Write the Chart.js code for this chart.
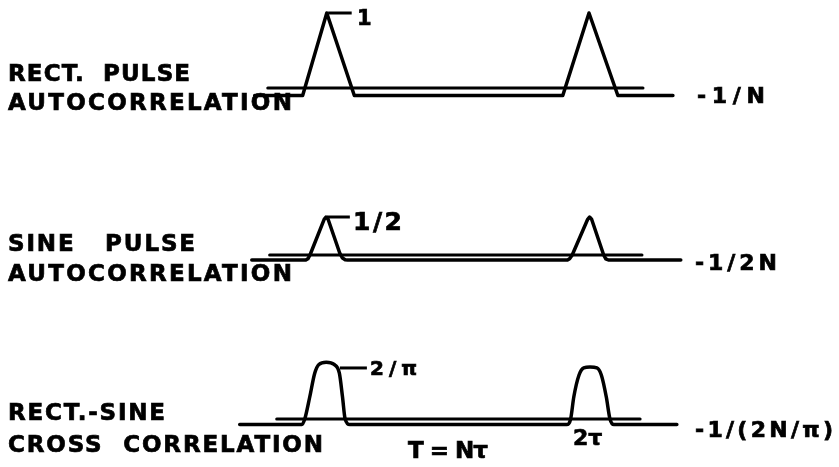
<!DOCTYPE html>
<html>
<head>
<meta charset="utf-8">
<script src="https://cdn.jsdelivr.net/npm/chart.js@4.4.1/dist/chart.umd.min.js"></script>
<style>
  html, body { margin: 0; padding: 0; background: #fff; }
  #stage { position: relative; width: 839px; height: 467px; overflow: hidden; background: #fff; }
  #stage canvas { position: absolute; left: 0; }
  .lbl {
    position: absolute; white-space: pre; color: #000; line-height: 1;
    font-family: "DejaVu Sans", "Liberation Sans", sans-serif; font-weight: bold;
    -webkit-text-stroke: 0.7px #000;
  }
</style>
</head>
<body>
<div id="stage"></div>
<script>
// x is in units of the chip width tau; first peak at 0, second at T = N*tau
// y is correlation value (each trace keeps its own vertical scale)

// --- rect. pulse autocorrelation ---
const rectX = [-2.75, -0.92, 0, 1.05, 9.0, 10.0, 11.1, 13.2];
const rectY = [-0.1, -0.1, 1.0, -0.1, -0.1, 1.0, -0.1, -0.1];
const rectZeroX = [-2.25, 12.06];
const rectLeadX = [0.05, 0.95];
const rectLeadY = 1.0;

// --- sine pulse autocorrelation ---
const sineX = [-2.86, -0.8, -0.72, -0.64, -0.1, -0.03, 0.05, 0.5, 0.6, 0.7, 0.8,
               9.18, 9.26, 9.36, 9.95, 10.02, 10.1, 10.56, 10.64, 10.74, 13.5];
const sineY = [-0.066, -0.066, -0.05, 0.0, 0.47, 0.5, 0.47, 0.02, -0.04, -0.062, -0.066,
               -0.066, -0.05, 0.0, 0.47, 0.5, 0.47, 0.0, -0.05, -0.066, -0.066];
const sineZeroX = [-2.18, 12.02];
const sineLeadX = [0.0, 0.88];
const sineLeadY = 0.5;

// --- rect.-sine cross correlation ---
const crossX = [-3.32, -0.95, -0.84, -0.65, -0.46, -0.3, -0.02, 0.28, 0.48, 0.6, 0.7, 0.88,
                9.15, 9.3, 9.42, 9.62, 9.8, 10.04, 10.3, 10.47, 10.66, 10.8, 10.95, 13.35];
const crossY = [-0.063, -0.063, 0.0, 0.25, 0.52, 0.62, 0.645, 0.62, 0.52, 0.25, 0.0, -0.063,
                -0.063, 0.0, 0.25, 0.5, 0.58, 0.59, 0.58, 0.5, 0.25, 0.0, -0.063, -0.063];
const crossZeroX = [-1.91, 11.95];
const crossLeadX = [0.5, 1.53];
const crossLeadY = 0.58;

// text: [string, left px, cap-centre px, font px, fitted width px (0 = natural)]
const labels = [
  ['RECT.  PULSE',        8,  73, 23, 182],
  ['AUTOCORRELATION',     8, 102, 23, 284],
  ['SINE   PULSE',        8, 243, 23, 187],
  ['AUTOCORRELATION',     8, 273, 23, 284],
  ['RECT.-SINE',          8, 412, 23, 157],
  ['CROSS  CORRELATION',  8, 444, 23, 315],
  ['1',                 357,  18, 21, 0],
  ['1/2',               353, 221, 25, 49],
  ['2/\u03c0',          370, 368, 20, 47],
  ['-1/N',              697,  96, 22, 68],
  ['-1/2N',             695, 263, 22, 82],
  ['-1/(2N/\u03c0)',    695, 430, 22, 138],
  ['T = N\u03c4',       408, 450, 23, 80],
  ['2\u03c4',           573, 438, 22, 0]
];

const X_MIN = -3.5, X_MAX = 14.5;
const PAD_L = 235, PAD_R = 132;   // puts x = 0 at ~327px, 26.2px per tau

const pts = (xs, ys) => xs.map((x, i) => ({ x, y: Array.isArray(ys) ? ys[i] : ys }));

function addTrace(cfg) {
  const { top, height, zeroPx, pxPerUnit, sigX, sigY, zeroX, leadX, leadY, smooth } = cfg;
  const yMax = (zeroPx - top) / pxPerUnit;
  const yMin = yMax - height / pxPerUnit;

  const cv = document.createElement('canvas');
  cv.width = 839; cv.height = height;
  cv.style.top = top + 'px';
  document.getElementById('stage').appendChild(cv);

  new Chart(cv.getContext('2d'), {
    type: 'scatter',
    data: {
      datasets: [
        { // zero reference
          data: pts(zeroX, 0), showLine: true, borderColor: '#000', borderWidth: 3,
          pointRadius: 0, clip: false, borderCapStyle: 'round'
        },
        { // correlation
          data: pts(sigX, sigY), showLine: true, borderColor: '#000', borderWidth: 3.5,
          pointRadius: 0, clip: false, borderJoinStyle: 'round', borderCapStyle: 'round',
          cubicInterpolationMode: smooth ? 'monotone' : 'default', tension: 0
        },
        { // leader to peak value label
          data: pts(leadX, leadY), showLine: true, borderColor: '#000', borderWidth: 3,
          pointRadius: 0, clip: false
        }
      ]
    },
    options: {
      responsive: false,
      animation: false,
      events: [],
      layout: { padding: { left: PAD_L, right: PAD_R, top: 0, bottom: 0 } },
      scales: {
        x: { type: 'linear', min: X_MIN, max: X_MAX, display: false },
        y: { type: 'linear', min: yMin, max: yMax, display: false }
      },
      plugins: { legend: { display: false }, tooltip: { enabled: false } }
    }
  });
}

addTrace({ top: 0,   height: 130, zeroPx: 88,  pxPerUnit: 75,
  sigX: rectX, sigY: rectY, zeroX: rectZeroX, leadX: rectLeadX, leadY: rectLeadY, smooth: false });
addTrace({ top: 180, height: 110, zeroPx: 255, pxPerUnit: 76,
  sigX: sineX, sigY: sineY, zeroX: sineZeroX, leadX: sineLeadX, leadY: sineLeadY, smooth: false });
addTrace({ top: 330, height: 120, zeroPx: 419, pxPerUnit: 88,
  sigX: crossX, sigY: crossY, zeroX: crossZeroX, leadX: crossLeadX, leadY: crossLeadY, smooth: true });

// lettering, spread out to the widths of the original
const stage = document.getElementById('stage');
labels.forEach(([txt, left, cy, size, w]) => {
  const d = document.createElement('div');
  d.className = 'lbl';
  d.textContent = txt;
  d.style.fontSize = size + 'px';
  d.style.left = left + 'px';
  d.style.top = Math.round(cy - 0.48 * size) + 'px';
  stage.appendChild(d);
  if (w && txt.length > 1) {
    const natural = d.getBoundingClientRect().width;
    d.style.letterSpacing = ((w - natural) / (txt.length - 1)).toFixed(2) + 'px';
  }
});
</script>
</body>
</html>
